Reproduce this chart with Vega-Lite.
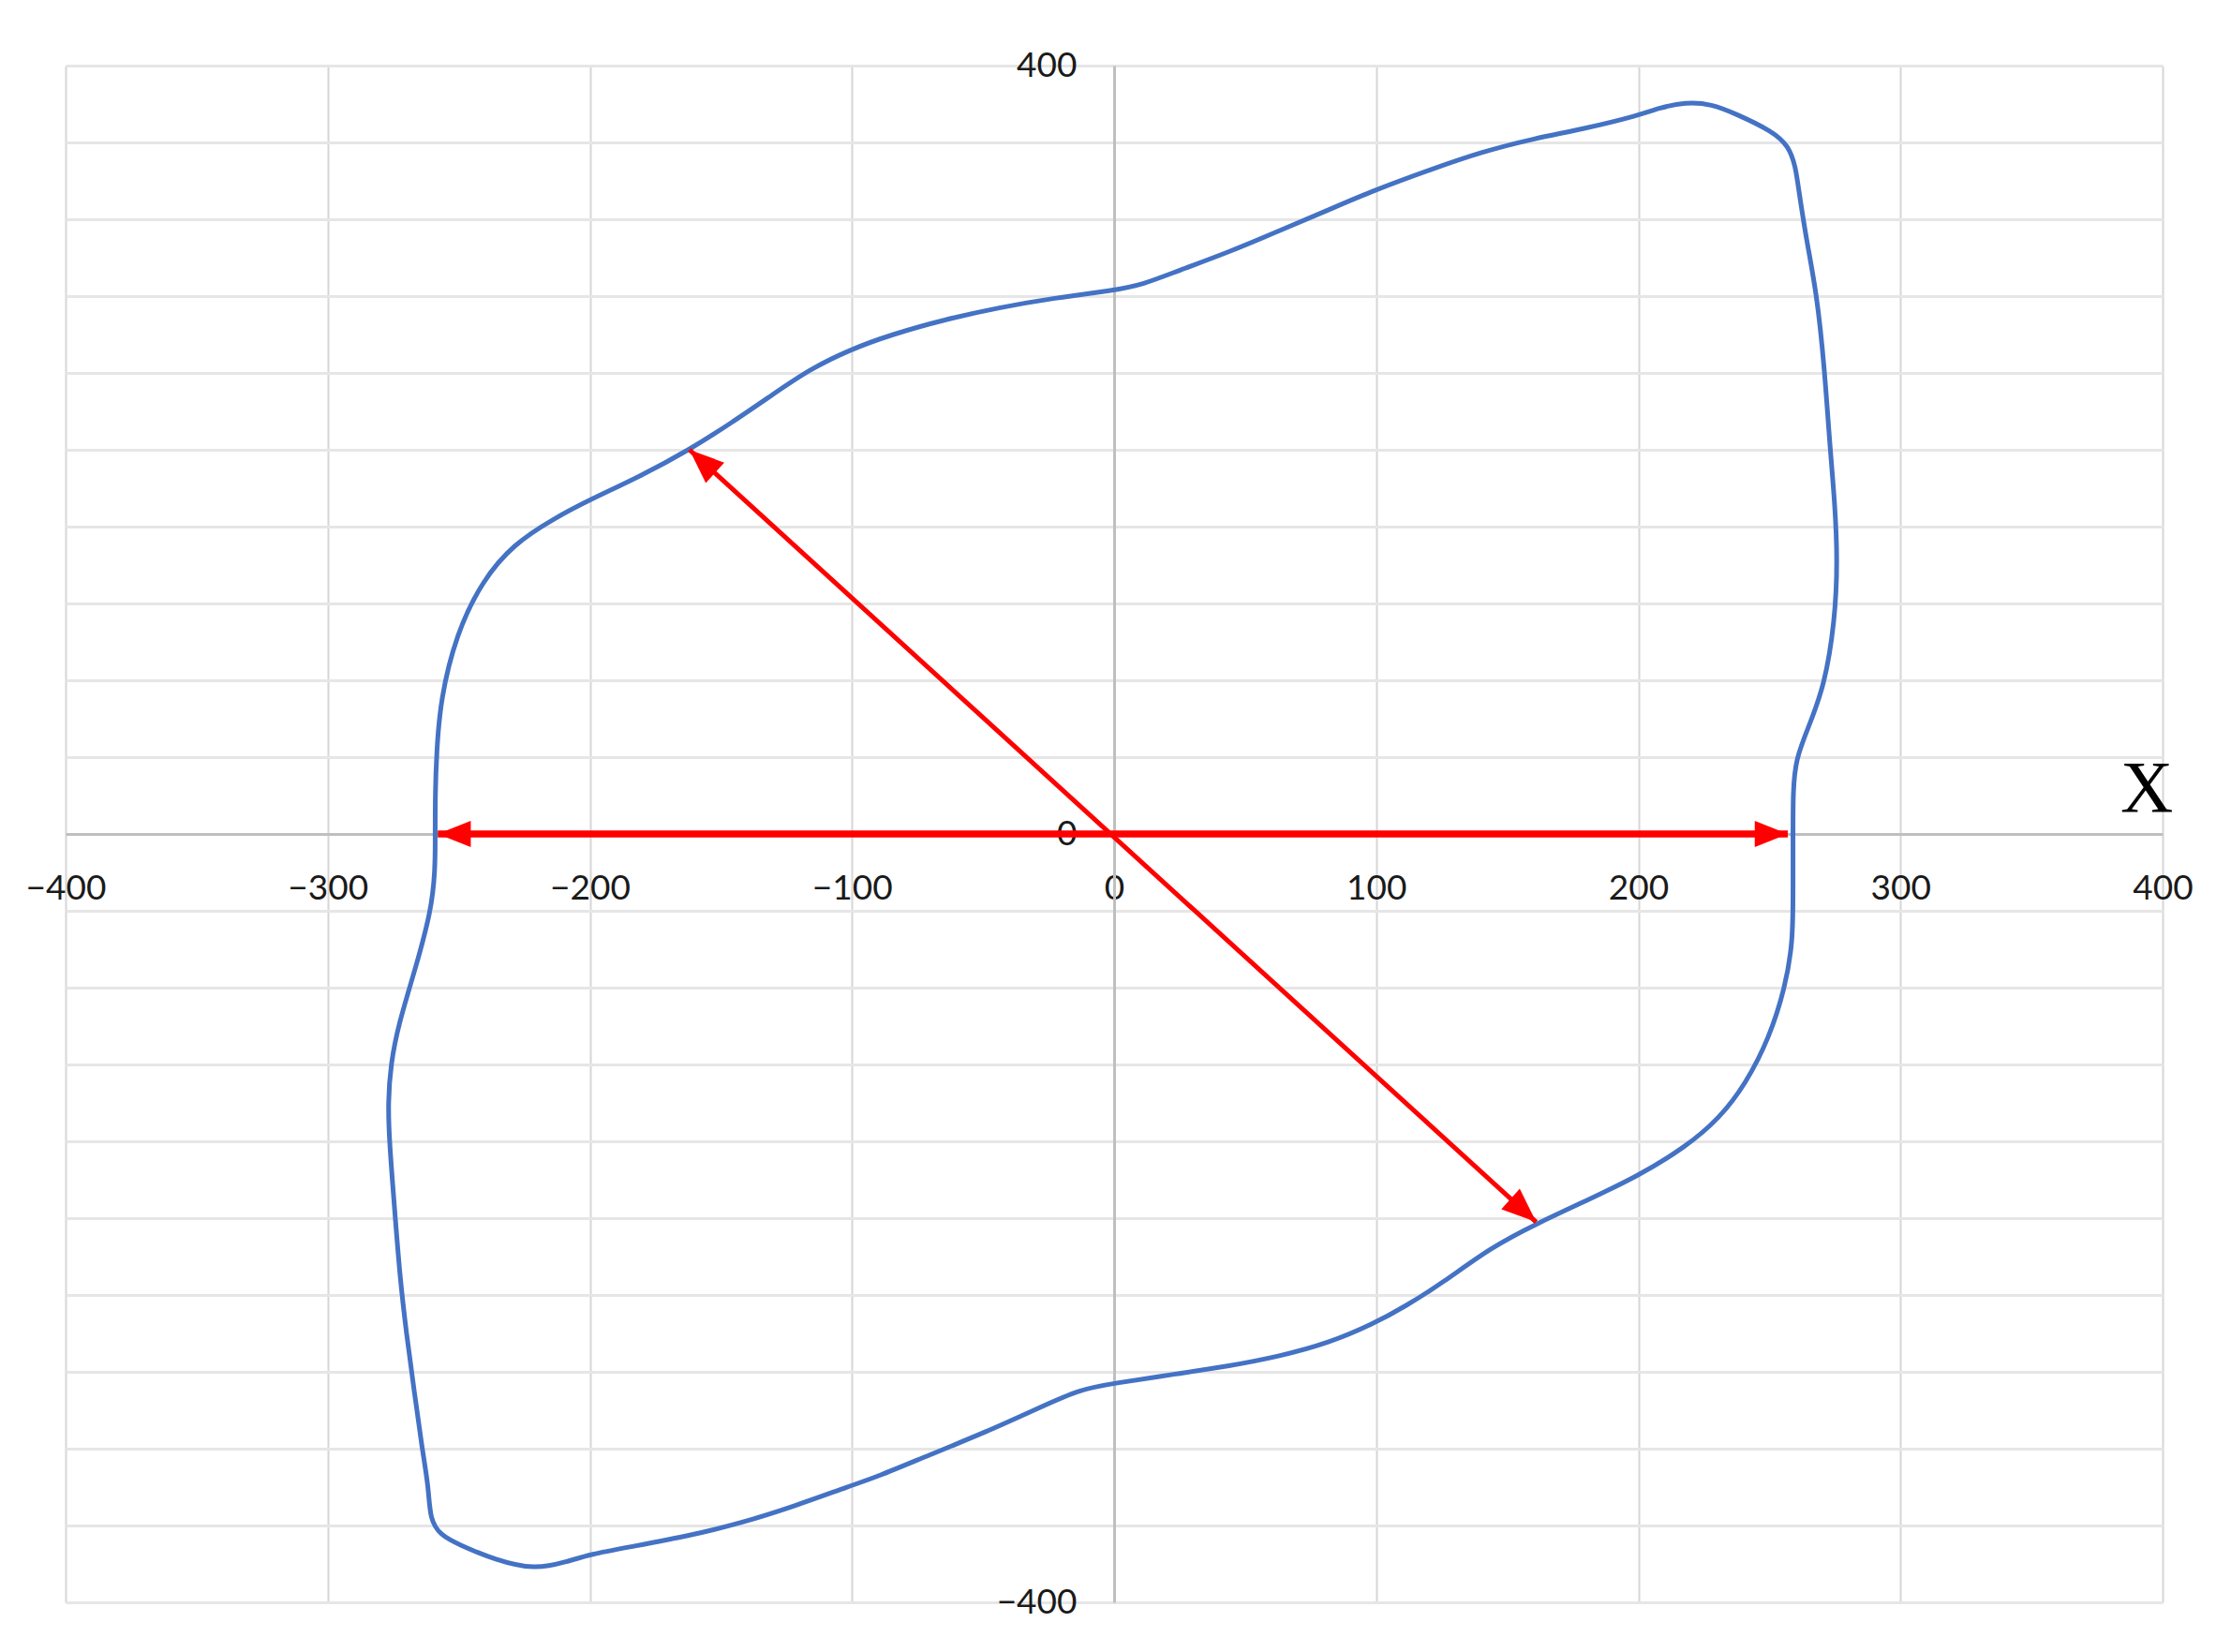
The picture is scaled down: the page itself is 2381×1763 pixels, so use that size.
{
  "$schema": "https://vega.github.io/schema/vega-lite/v6.json",
  "width": 2238,
  "height": 1640,
  "autosize": {"type": "none"},
  "padding": {"left": 70, "top": 70, "right": 73, "bottom": 53},
  "background": "white",
  "config": {"view": {"stroke": null}, "font": "Lato"},
  "datasets": {
    "contour": [
      {"i":0,"x":-259,"y":0},{"i":1,"x":-259,"y":20},{"i":2,"x":-258.5,"y":42},{"i":3,"x":-257,"y":70},{"i":4,"x":-251,"y":104},
      {"i":5,"x":-241,"y":132},{"i":6,"x":-229,"y":151},{"i":7,"x":-214,"y":164},{"i":8,"x":-200,"y":174},{"i":9,"x":-181,"y":186},
      {"i":10,"x":-162,"y":200},{"i":11,"x":-146,"y":214},{"i":12,"x":-130,"y":229},{"i":13,"x":-116,"y":242},{"i":14,"x":-101,"y":252},
      {"i":15,"x":-85,"y":260},{"i":16,"x":-64,"y":268},{"i":17,"x":-44,"y":274},{"i":18,"x":-23,"y":279},{"i":19,"x":0,"y":283},
      {"i":20,"x":11,"y":286},{"i":21,"x":24,"y":293},{"i":22,"x":44,"y":303},{"i":23,"x":63,"y":314},{"i":24,"x":82,"y":325},
      {"i":25,"x":99,"y":335},{"i":26,"x":121,"y":346},{"i":27,"x":140,"y":355},{"i":28,"x":160,"y":362},{"i":29,"x":179,"y":367},
      {"i":30,"x":200,"y":374},{"i":31,"x":208,"y":378},{"i":32,"x":218,"y":381},{"i":33,"x":228,"y":380},{"i":34,"x":237,"y":375},
      {"i":35,"x":251,"y":366},{"i":36,"x":257.5,"y":358},{"i":37,"x":260,"y":347},{"i":38,"x":261,"y":337},{"i":39,"x":264,"y":310},
      {"i":40,"x":268,"y":282},{"i":41,"x":271,"y":243},{"i":42,"x":273,"y":203},{"i":43,"x":275,"y":172},{"i":44,"x":276,"y":142},
      {"i":45,"x":275,"y":111},{"i":46,"x":271,"y":77},{"i":47,"x":265,"y":56},{"i":48,"x":260,"y":39},{"i":49,"x":259,"y":22},
      {"i":50,"x":259,"y":0},{"i":51,"x":259,"y":-29},{"i":52,"x":259,"y":-56},{"i":53,"x":256,"y":-80},{"i":54,"x":250,"y":-106},
      {"i":55,"x":241,"y":-130},{"i":56,"x":231,"y":-148},{"i":57,"x":218,"y":-163},{"i":58,"x":200,"y":-178},{"i":59,"x":180,"y":-191},
      {"i":60,"x":161,"y":-203},{"i":61,"x":144,"y":-215},{"i":62,"x":125,"y":-234},{"i":63,"x":111,"y":-246},{"i":64,"x":99,"y":-255},
      {"i":65,"x":82,"y":-265},{"i":66,"x":63,"y":-272},{"i":67,"x":44,"y":-277},{"i":68,"x":24,"y":-281},{"i":69,"x":0,"y":-286},
      {"i":70,"x":-13,"y":-289},{"i":71,"x":-29,"y":-299},{"i":72,"x":-50,"y":-312},{"i":73,"x":-70,"y":-323},{"i":74,"x":-91,"y":-335},
      {"i":75,"x":-100,"y":-339},{"i":76,"x":-122,"y":-350},{"i":77,"x":-143,"y":-359},{"i":78,"x":-161,"y":-365},{"i":79,"x":-184,"y":-371},
      {"i":80,"x":-200,"y":-375},{"i":81,"x":-209,"y":-379},{"i":82,"x":-221,"y":-383},{"i":83,"x":-236,"y":-378},{"i":84,"x":-250,"y":-370},
      {"i":85,"x":-257,"y":-365},{"i":86,"x":-261,"y":-357},{"i":87,"x":-261.5,"y":-340},{"i":88,"x":-264,"y":-320},{"i":89,"x":-267,"y":-290},
      {"i":90,"x":-270,"y":-260},{"i":91,"x":-272.5,"y":-230},{"i":92,"x":-274.5,"y":-195},{"i":93,"x":-276.5,"y":-160},{"i":94,"x":-277,"y":-140},
      {"i":95,"x":-276,"y":-120},{"i":96,"x":-273,"y":-99},{"i":97,"x":-266.5,"y":-70},{"i":98,"x":-260.5,"y":-40},{"i":99,"x":-259,"y":-19},
      {"i":100,"x":-259,"y":0}
    ],
    "arrows": [
      {"arrow":"horizontal","end":"left","x":-258,"y":0,"i":0},
      {"arrow":"horizontal","end":"right","x":257,"y":0,"i":1},
      {"arrow":"diagonal","end":"upper","x":-162,"y":200,"i":0},
      {"arrow":"diagonal","end":"lower","x":161,"y":-202,"i":1}
    ],
    "labels": [{"text":"X","x":394,"y":23}]
  },
  "layer": [
    {
      "data": {"name": "contour"},
      "mark": {"type": "line", "color": "#4472c4", "strokeWidth": 5, "interpolate": "basis"},
      "encoding": {
        "x": {"field": "x", "type": "quantitative",
          "scale": {"domain": [-400, 400], "nice": false, "zero": false},
          "axis": {"orient": "bottom", "grid": true, "domain": false, "labels": false, "ticks": false, "title": null,
            "values": [-400,-300,-200,-100,0,100,200,300,400], "gridColor": "#d6d6d6", "gridWidth": 2}},
        "y": {"field": "y", "type": "quantitative",
          "scale": {"domain": [-400, 400], "nice": false, "zero": false},
          "axis": {"orient": "left", "grid": true, "domain": false, "labels": false, "ticks": false, "title": null,
            "values": [-400,-360,-320,-280,-240,-200,-160,-120,-80,-40,0,40,80,120,160,200,240,280,320,360,400],
            "gridColor": "#e6e6e6", "gridWidth": 3}},
        "order": {"field": "i", "type": "quantitative"}
      }
    },
    {
      "data": {"name": "arrows"},
      "transform": [{"filter": "datum.arrow == 'horizontal'"}],
      "mark": {"type": "line", "color": "#ff0000", "strokeWidth": 7.5},
      "encoding": {
        "x": {"field": "x", "type": "quantitative",
          "axis": {"orient": "bottom", "offset": -820, "grid": false, "domain": true, "domainColor": "#bfbfbf", "domainWidth": 3,
            "ticks": false, "title": null, "labels": true, "labelFont": "Lato", "labelFontSize": 37, "labelColor": "#1a1a1a",
            "labelPadding": 40, "labelFlush": false, "labelOverlap": false,
            "values": [-400,-300,-200,-100,0,100,200,300,400]}},
        "y": {"field": "y", "type": "quantitative",
          "axis": {"orient": "left", "offset": -1119, "grid": false, "domain": true, "domainColor": "#bfbfbf", "domainWidth": 3,
            "ticks": false, "title": null, "labels": true, "labelFont": "Lato", "labelFontSize": 37, "labelColor": "#1a1a1a",
            "labelPadding": 40, "labelFlush": false, "labelOverlap": false,
            "values": [-400, 0, 400]}},
        "order": {"field": "i", "type": "quantitative"}
      }
    },
    {
      "data": {"name": "arrows"},
      "transform": [{"filter": "datum.arrow == 'diagonal'"}],
      "mark": {"type": "line", "color": "#ff0000", "strokeWidth": 5},
      "encoding": {
        "x": {"field": "x", "type": "quantitative", "axis": null},
        "y": {"field": "y", "type": "quantitative", "axis": null},
        "order": {"field": "i", "type": "quantitative"}
      }
    },
    {
      "data": {"name": "arrows"},
      "transform": [{"filter": "datum.end == 'left'"}],
      "mark": {"type": "point", "shape": "M0,0L-0.6,1.5L0.6,1.5Z", "filled": true, "color": "#ff0000", "opacity": 1, "size": 2200, "angle": 270},
      "encoding": {
        "x": {"field": "x", "type": "quantitative", "axis": null},
        "y": {"field": "y", "type": "quantitative", "axis": null}
      }
    },
    {
      "data": {"name": "arrows"},
      "transform": [{"filter": "datum.end == 'right'"}],
      "mark": {"type": "point", "shape": "M0,0L-0.6,1.5L0.6,1.5Z", "filled": true, "color": "#ff0000", "opacity": 1, "size": 2200, "angle": 90},
      "encoding": {
        "x": {"field": "x", "type": "quantitative", "axis": null},
        "y": {"field": "y", "type": "quantitative", "axis": null}
      }
    },
    {
      "data": {"name": "arrows"},
      "transform": [{"filter": "datum.end == 'upper'"}],
      "mark": {"type": "point", "shape": "M0,0L-0.6,1.5L0.6,1.5Z", "filled": true, "color": "#ff0000", "opacity": 1, "size": 2400, "angle": 312},
      "encoding": {
        "x": {"field": "x", "type": "quantitative", "axis": null},
        "y": {"field": "y", "type": "quantitative", "axis": null}
      }
    },
    {
      "data": {"name": "arrows"},
      "transform": [{"filter": "datum.end == 'lower'"}],
      "mark": {"type": "point", "shape": "M0,0L-0.6,1.5L0.6,1.5Z", "filled": true, "color": "#ff0000", "opacity": 1, "size": 2400, "angle": 132},
      "encoding": {
        "x": {"field": "x", "type": "quantitative", "axis": null},
        "y": {"field": "y", "type": "quantitative", "axis": null}
      }
    },
    {
      "data": {"name": "labels"},
      "mark": {"type": "text", "font": "Liberation Serif", "fontSize": 78, "color": "#000000", "align": "center", "baseline": "middle"},
      "encoding": {
        "x": {"field": "x", "type": "quantitative", "axis": null},
        "y": {"field": "y", "type": "quantitative", "axis": null},
        "text": {"field": "text"}
      }
    }
  ],
  "resolve": {"axis": {"x": "independent", "y": "independent"}}
}
